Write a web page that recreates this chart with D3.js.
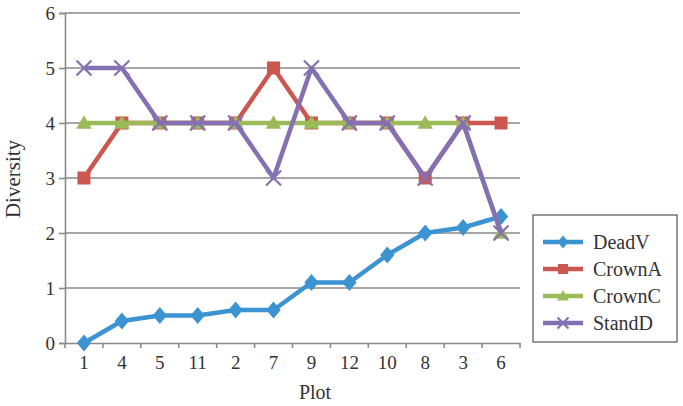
<!DOCTYPE html>
<html><head><meta charset="utf-8">
<script src="https://cdn.jsdelivr.net/npm/d3@7"></script>
<style>body{margin:0;background:#fff}svg{display:block}</style>
</head><body>
<script>
const plots = ["1","4","5","11","2","7","9","12","10","8","3","6"];
const deadV  = [0, 0.4, 0.5, 0.5, 0.6, 0.6, 1.1, 1.1, 1.6, 2.0, 2.1, 2.3];
const crownA = [3, 4, 4, 4, 4, 5, 4, 4, 4, 3, 4, 4];
const crownC = [4, 4, 4, 4, 4, 4, 4, 4, 4, 4, 4, 2];
const standD = [5, 5, 4, 4, 4, 3, 5, 4, 4, 3, 4, 2];
const seriesNames = ["DeadV","CrownA","CrownC","StandD"];
const yTicks = [0,1,2,3,4,5,6];

const series = [
  {name:seriesNames[0], values:deadV,  color:"#3b93d1", marker:"diamond"},
  {name:seriesNames[1], values:crownA, color:"#cc5650", marker:"square"},
  {name:seriesNames[2], values:crownC, color:"#9bbb59", marker:"triangle"},
  {name:seriesNames[3], values:standD, color:"#8570b4", marker:"x"}
];

const W=683,H=406;
const m={l:65,r:163,t:13,b:63};
const svg=d3.select("body").append("svg").attr("width",W).attr("height",H);
const x=d3.scaleBand().domain(plots).range([m.l,W-m.r]);
const y=d3.scaleLinear().domain([0,6]).range([H-m.b,m.t]);
const font="'Liberation Serif','Times New Roman',serif";
const grid="#8a8a8a";
const txt="#333";

// gridlines
svg.append("g").selectAll("line").data(yTicks.filter(d=>d>0)).join("line")
  .attr("x1",m.l).attr("x2",W-m.r).attr("y1",d=>y(d)).attr("y2",d=>y(d))
  .attr("stroke",grid).attr("stroke-width",1.6);

// y axis
const ya=svg.append("g").attr("transform",`translate(${m.l},0)`)
  .call(d3.axisLeft(y).tickValues(yTicks).tickFormat(d3.format("d")).tickSize(6).tickPadding(4));
ya.select(".domain").attr("stroke",grid).attr("stroke-width",1.6);
ya.selectAll(".tick line").attr("stroke",grid).attr("stroke-width",1.6);
ya.selectAll("text").attr("font-family",font).attr("font-size",19).attr("fill",txt);

// x axis
const xa=svg.append("g").attr("transform",`translate(0,${H-m.b})`)
  .call(d3.axisBottom(x).tickSize(0).tickPadding(13));
xa.select(".domain").attr("stroke",grid).attr("stroke-width",1.6);
xa.selectAll("text").attr("font-family",font).attr("font-size",19).attr("fill",txt);
const bounds=plots.map(p=>x(p)).concat([x(plots[plots.length-1])+x.bandwidth()]);
xa.selectAll(".bt").data(bounds).join("line").attr("class","bt")
  .attr("x1",d=>d).attr("x2",d=>d).attr("y1",0).attr("y2",5)
  .attr("stroke",grid).attr("stroke-width",1.6);

// axis titles
svg.append("text").attr("x",315).attr("y",H-7).attr("text-anchor","middle")
  .attr("font-family",font).attr("font-size",20).attr("fill",txt).text("Plot");
svg.append("text").attr("transform",`translate(20,179) rotate(-90)`)
  .attr("text-anchor","middle").attr("font-family",font).attr("font-size",21).attr("fill",txt).text("Diversity");

function drawMarker(g,type,cx,cy,color,s){
  if(type==="diamond"){
    g.append("path").attr("d",`M${cx},${cy-s*0.65}L${cx+s*0.55},${cy}L${cx},${cy+s*0.65}L${cx-s*0.55},${cy}Z`).attr("fill",color);
  } else if(type==="square"){
    g.append("rect").attr("x",cx-s/2).attr("y",cy-s/2).attr("width",s).attr("height",s).attr("fill",color);
  } else if(type==="triangle"){
    g.append("path").attr("d",`M${cx},${cy-s*0.6}L${cx+s*0.6},${cy+s*0.45}L${cx-s*0.6},${cy+s*0.45}Z`).attr("fill",color);
  } else {
    const h=s*0.5;
    g.append("path").attr("d",`M${cx-h},${cy-h}L${cx+h},${cy+h}M${cx-h},${cy+h}L${cx+h},${cy-h}`)
      .attr("stroke",color).attr("stroke-width",2.2).attr("fill","none");
  }
}

const line=d3.line().x((d,i)=>x(plots[i])+x.bandwidth()/2).y(d=>y(d));
series.forEach(s=>{
  const g=svg.append("g");
  g.append("path").attr("d",line(s.values)).attr("fill","none")
    .attr("stroke",s.color).attr("stroke-width",4.5).attr("stroke-linejoin","round");
  s.values.forEach((v,i)=>drawMarker(g,s.marker,x(plots[i])+x.bandwidth()/2,y(v),s.color,s.marker==="x"?15:13));
});

// legend
const lg=svg.append("g");
lg.append("rect").attr("x",533).attr("y",215).attr("width",144).attr("height",127)
  .attr("fill","#fff").attr("stroke","#555").attr("stroke-width",1.2);
series.forEach((s,i)=>{
  const cy=242+i*27;
  const g=lg.append("g");
  g.append("line").attr("x1",543).attr("x2",583).attr("y1",cy).attr("y2",cy)
    .attr("stroke",s.color).attr("stroke-width",4.5);
  drawMarker(g,s.marker,563,cy,s.color,s.marker==="x"?11:10);
  g.append("text").attr("x",593).attr("y",cy+7).attr("font-family",font).attr("font-size",20)
    .attr("fill",txt).text(s.name);
});
</script>
</body></html>
